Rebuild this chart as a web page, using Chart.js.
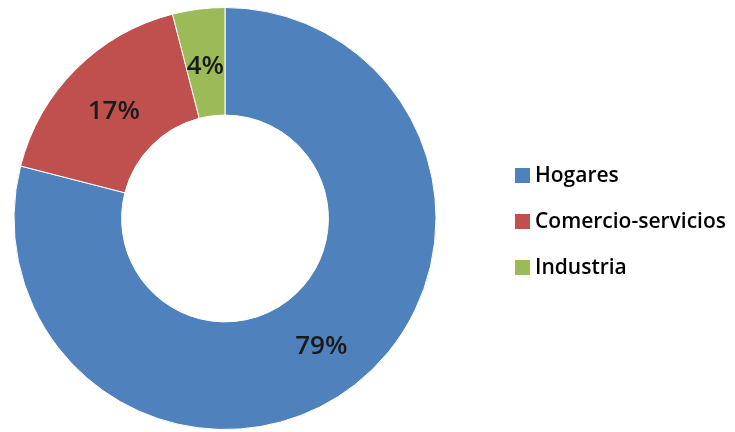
<!DOCTYPE html>
<html>
<head>
<meta charset="utf-8">
<script src="https://cdn.jsdelivr.net/npm/chart.js@4/dist/chart.umd.min.js"></script>
<style>
  body { margin: 0; background: #fff; }
  canvas { display: block; }
</style>
</head>
<body>
<canvas id="donaChart" width="735" height="432"></canvas>
<script>
"use strict"
// Datos del gráfico
const etiquetas = ["Hogares", "Comercio-servicios", "Industria"];
const porcentajes = [79, 17, 4];
const colores = ["#4F81BD", "#C0504D", "#9BBB59"];

// Escribe el porcentaje en el centro de cada sector
const etiquetasSectores = {
    id: "etiquetasSectores",
    afterDatasetsDraw(chart) {
        const ctx = chart.ctx;
        const meta = chart.getDatasetMeta(0);
        ctx.save();
        ctx.font = "600 26px 'Open Sans'";
        ctx.fillStyle = "#1a1a1a";
        ctx.textAlign = "center";
        ctx.textBaseline = "middle";
        meta.data.forEach((arc, i) => {
            const pos = arc.tooltipPosition();
            ctx.fillText(porcentajes[i] + "%", pos.x, pos.y + 4);
        });
        ctx.restore();
    }
};

// Leyenda a la derecha con cuadros de color
const leyenda = {
    id: "leyenda",
    afterDraw(chart) {
        const ctx = chart.ctx;
        ctx.save();
        ctx.font = "600 21px 'Open Sans'";
        ctx.textAlign = "left";
        ctx.textBaseline = "alphabetic";
        chart.data.labels.forEach((texto, i) => {
            const y = 168 + i * 46;
            ctx.fillStyle = colores[i];
            ctx.fillRect(515, y, 15, 15);
            ctx.fillStyle = "#000";
            ctx.fillText(texto, 535, y + 14);
        });
        ctx.restore();
    }
};

const ctx = document.getElementById("donaChart");
new Chart(ctx, {
    type: "doughnut",
    data: {
        labels: etiquetas,
        datasets: [{
            data: porcentajes,
            backgroundColor: colores,
            borderColor: "#fff",
            borderWidth: 1
        }]
    },
    options: {
        responsive: false,
        animation: false,
        cutout: "49%",
        layout: {
            padding: { top: 7, bottom: 2, left: 0, right: 285 }
        },
        plugins: {
            legend: { display: false },
            tooltip: { enabled: false }
        }
    },
    plugins: [etiquetasSectores, leyenda]
});
</script>
</body>
</html>
